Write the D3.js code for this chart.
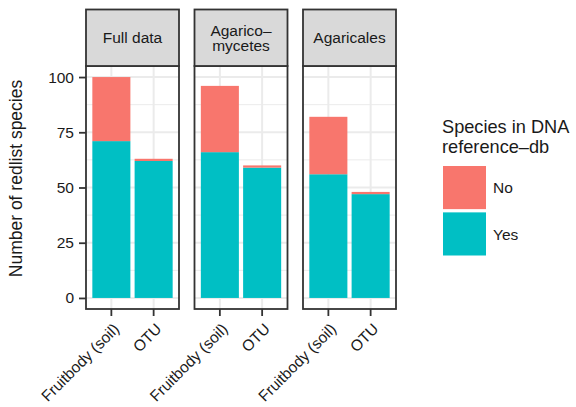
<!DOCTYPE html>
<html>
<head>
<meta charset="utf-8">
<script src="https://cdn.jsdelivr.net/npm/d3@7"></script>
<style>
  html, body { margin: 0; padding: 0; background: #fff; }
  svg { display: block; font-family: "Liberation Sans", Arial, Helvetica, sans-serif; }
</style>
</head>
<body>
<svg id="chart" width="576" height="407"></svg>
<script>
// ---- data ----
const facets = ["Full data", "Agarico\u2013\nmycetes", "Agaricales"];
const sources = ["Fruitbody (soil)", "OTU"];
const yesFruitbody = [71, 66, 56];
const noFruitbody  = [29, 30, 26];
const yesOTU       = [62, 59, 47];
const noOTU        = [1, 1, 1];
const yTicks = [0, 25, 50, 75, 100];
const yMinor = [12.5, 37.5, 62.5, 87.5];
const legendKeys = ["No", "Yes"];
const legendTitle = ["Species in DNA", "reference\u2013db"];
const yTitle = "Number of redlist species";

// ---- build table ----
const rows = [];
facets.forEach((f, i) => {
  rows.push({facet: f, source: sources[0], Yes: yesFruitbody[i], No: noFruitbody[i]});
  rows.push({facet: f, source: sources[1], Yes: yesOTU[i], No: noOTU[i]});
});

const colors = {No: "#F8766D", Yes: "#00BFC4"};
const svg = d3.select("#chart");

const panelTop = 66, panelBottom = 309, stripTop = 9.5;
const panelW = 93, panelGap = 15.5, panelX0 = 86;
const smallFont = 15.5;

const y = d3.scaleLinear().domain([-5, 105]).range([panelBottom, panelTop]);
const stack = d3.stack().keys(["Yes", "No"]);

const textCol = "#1a1a1a";

facets.forEach((f, i) => {
  const x0 = panelX0 + i * (panelW + panelGap);
  const x = d3.scaleBand().domain(sources).range([x0, x0 + panelW])
    .paddingInner(0.1).paddingOuter(0.15);
  const g = svg.append("g");

  // grid
  g.selectAll(".minor").data(yMinor).join("line")
    .attr("x1", x0).attr("x2", x0 + panelW)
    .attr("y1", d => y(d)).attr("y2", d => y(d))
    .attr("stroke", "#EBEBEB").attr("stroke-width", 1);
  g.selectAll(".major").data(yTicks).join("line")
    .attr("x1", x0).attr("x2", x0 + panelW)
    .attr("y1", d => y(d)).attr("y2", d => y(d))
    .attr("stroke", "#EBEBEB").attr("stroke-width", 2);
  g.selectAll(".vmajor").data(sources).join("line")
    .attr("x1", d => x(d) + x.bandwidth() / 2).attr("x2", d => x(d) + x.bandwidth() / 2)
    .attr("y1", panelTop).attr("y2", panelBottom)
    .attr("stroke", "#EBEBEB").attr("stroke-width", 2);

  // bars
  const data = rows.filter(r => r.facet === f);
  const series = stack(data);
  series.forEach(s => {
    g.append("g").selectAll("rect").data(s).join("rect")
      .attr("x", d => x(d.data.source))
      .attr("width", x.bandwidth())
      .attr("y", d => y(d[1]))
      .attr("height", d => y(d[0]) - y(d[1]))
      .attr("fill", colors[s.key]);
  });

  // panel border
  g.append("rect").attr("x", x0).attr("y", panelTop)
    .attr("width", panelW).attr("height", panelBottom - panelTop)
    .attr("fill", "none").attr("stroke", "#333333").attr("stroke-width", 1.8);

  // strip
  g.append("rect").attr("x", x0).attr("y", stripTop)
    .attr("width", panelW).attr("height", panelTop - stripTop)
    .attr("fill", "#D9D9D9").attr("stroke", "#333333").attr("stroke-width", 1.8);
  const lines = f.split("\n");
  const cy = (stripTop + panelTop) / 2;
  const lh = 15.5;
  lines.forEach((ln, k) => {
    g.append("text")
      .attr("x", x0 + panelW / 2)
      .attr("y", cy + (k - (lines.length - 1) / 2) * lh)
      .attr("dy", "0.36em")
      .attr("text-anchor", "middle")
      .attr("font-size", smallFont).attr("fill", textCol)
      .text(ln);
  });

  // x axis ticks + labels
  const xa = g.append("g").attr("transform", `translate(0,${panelBottom})`)
    .call(d3.axisBottom(x).tickSize(7).tickPadding(0));
  xa.select(".domain").remove();
  xa.selectAll(".tick line").attr("stroke", "#333333").attr("stroke-width", 1.8);
  xa.selectAll(".tick text")
    .attr("font-size", smallFont).attr("fill", textCol)
    .attr("font-family", null)
    .attr("text-anchor", "end")
    .attr("y", 0).attr("dy", "0.72em")
    .attr("transform", "translate(1,13) rotate(-45)");

  // y axis on first panel
  if (i === 0) {
    const ya = g.append("g").attr("transform", `translate(${x0},0)`)
      .call(d3.axisLeft(y).tickValues(yTicks).tickSize(7).tickPadding(5));
    ya.select(".domain").remove();
    ya.selectAll(".tick line").attr("stroke", "#333333").attr("stroke-width", 1.8);
    ya.selectAll(".tick text").attr("font-size", smallFont).attr("fill", textCol)
      .attr("font-family", null);
  }
});

// y title
svg.append("text")
  .attr("transform", `translate(22,${(panelTop + panelBottom) / 2 - 9}) rotate(-90)`)
  .attr("text-anchor", "middle").attr("font-size", 17.5).attr("fill", textCol)
  .text(yTitle);

// legend
const lg = svg.append("g");
legendTitle.forEach((t, k) => {
  lg.append("text").attr("x", 442).attr("y", 133 + k * 19.5)
    .attr("font-size", 18.2).attr("fill", textCol).text(t);
});
const keyY = d3.scaleBand().domain(legendKeys).range([166, 255.5]).paddingInner(0.07);
lg.selectAll("rect").data(legendKeys).join("rect")
  .attr("x", 443).attr("width", 43)
  .attr("y", d => keyY(d)).attr("height", keyY.bandwidth())
  .attr("fill", d => colors[d]);
lg.selectAll(".lab").data(legendKeys).join("text")
  .attr("x", 493).attr("y", d => keyY(d) + keyY.bandwidth() / 2)
  .attr("dy", "0.36em").attr("font-size", smallFont).attr("fill", textCol)
  .text(d => d);
</script>
</body>
</html>
